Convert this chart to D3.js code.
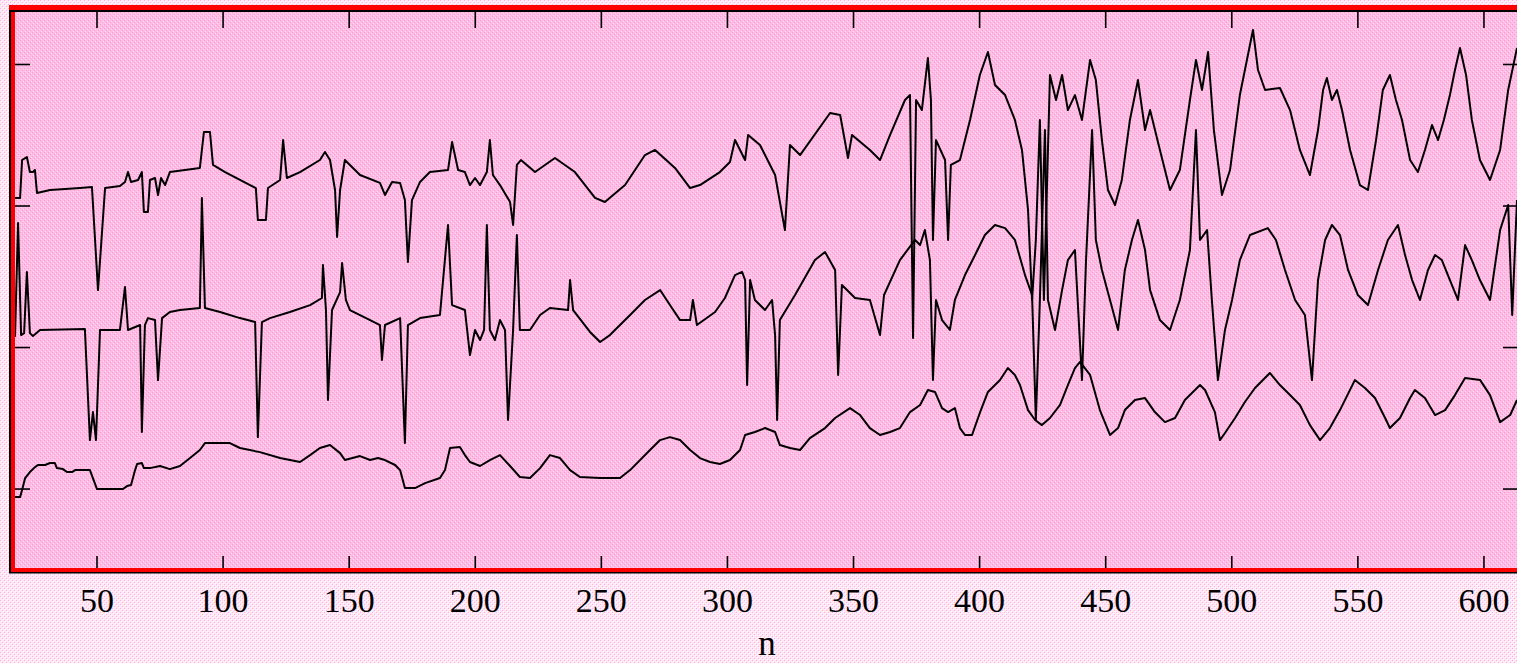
<!DOCTYPE html>
<html><head><meta charset="utf-8">
<script src="https://cdn.jsdelivr.net/npm/d3@7"></script>
<style>html,body{margin:0;padding:0;overflow:hidden;background:#fff}</style>
</head><body>
<script>
const xTicks = [50,100,150,200,250,300,350,400,450,500,550,600];
const yTicks = [0,10,20,30];

const bottomN = [16,19.5,20.3,21.5,23.4,25.4,26.6,29.4,31.4,33.3,34.1,36.5,38.1,40.1,41.3,47.2,50,60.3,61.9,63.5,65.1,65.9,67.8,68.6,71,75,78.9,82.9,86.9,90.8,92.8,102.7,106.7,114.6,122.6,130.5,134.5,138.4,142.4,146.4,148.3,154.3,158.3,161.4,164.2,168.2,170.2,172.1,176.1,180.1,186,188,190,193.9,195.9,197.9,201.9,205.8,209.8,213.8,217.7,221.7,225.7,229.6,233.6,237.6,241.5,249.5,257.4,261.4,269.3,273.3,277.2,281.2,285.2,289.1,293.1,297,301,305,307,310.9,314.9,318.9,320.8,324.8,328.8,332.7,338.7,342.7,348.6,352.6,356.5,360.5,364.5,368.4,372.4,376.4,379.5,382.3,385.1,387.5,390.2,392.2,394.2,397,400.2,403.3,408.1,411.2,414,416,419.2,422,424.7,427.9,431.9,435,437.8,439.8,443.8,447.7,451.7,454.9,457.6,461.6,465.6,469.5,473.5,477.5,481.4,487.4,489.4,493.3,495.3,497.3,501.3,505.2,509.2,515.1,519.1,523.1,527,531,535,538.9,542.9,548.8,552.8,556.8,560.8,562.7,566.7,570.7,572.6,576.6,580.6,584.6,588.5,592.5,598.5,602.4,606.4,610.4,613.1];
const bottomV = [-0.57,-0.57,-0.07,0.78,1.2,1.55,1.7,1.7,1.84,1.84,1.48,1.41,1.2,1.2,1.34,1.34,0,0,0.21,0.28,1.34,1.77,1.84,1.48,1.48,1.63,1.41,1.63,2.19,2.76,3.25,3.25,2.9,2.61,2.19,1.91,2.4,2.9,3.11,2.54,2.05,2.33,2.05,2.19,2.05,1.7,1.34,0.07,0.07,0.42,0.78,1.34,2.9,2.97,2.4,1.91,1.63,2.05,2.4,1.63,0.85,0.78,1.48,2.4,2.19,1.34,0.85,0.78,0.78,1.34,2.76,3.46,3.67,3.46,2.76,2.19,1.91,1.77,2.05,2.76,3.82,4.03,4.31,4.03,3.11,2.9,2.76,3.6,4.31,5.02,5.72,5.23,4.31,3.82,4.03,4.31,5.44,5.94,7,6.86,5.72,5.44,5.72,4.31,3.82,3.82,5.44,6.86,7.7,8.55,8.06,7.35,5.58,4.88,4.52,5.02,5.94,7.35,8.55,8.98,8.06,5.58,3.82,4.31,5.58,6.29,6.43,5.44,4.73,5.02,6.29,7.35,7,5.44,3.46,3.96,5.02,6.15,7.14,8.2,7.35,6.64,5.94,4.52,3.46,4.31,5.58,7.7,7.14,6.43,5.02,4.31,5.02,6.43,7,6.43,5.23,5.58,6.64,7.84,7.7,6.64,4.73,5.23,6.29];

const middleN = [15.9,17.5,18.7,19.9,21.1,22.2,23.4,24.6,27.4,45.2,47.2,48.4,49.6,51.2,59.1,61.1,62.3,67.1,67.8,69,70.2,73,74.2,75.8,78.9,82.9,90.8,91.6,92.8,98.8,106.7,112.7,113.8,115.4,118.6,126.5,134.5,139.2,139.6,140.8,141.6,143.2,146.4,147.2,148.7,150.3,158.3,162.2,163,164.2,170.2,172.1,173.3,178.1,186,189.2,190.8,195.9,197.9,199.9,201.9,203.5,204.6,205.8,207.8,209.8,211.8,213,215,216.5,217.7,221.7,225.7,229.6,236.8,237.6,238.8,245.5,249.5,253.4,261.4,267.3,273.3,277.2,281.2,285.2,286.3,287.9,295.1,299,303,305.8,307,307.8,309,310.9,314.9,317.7,318.9,319.7,320.8,326.8,334.7,338.7,342.7,343.9,345.4,350.6,356.5,360.5,362.1,368.4,374.4,
376.4,378.3,380.3,381.5,382.7,385.1,388.2,390.2,394.2,398.2,402.1,406.1,410.1,414,418,420.8,422.3,423.9,425.9,427.1,429.9,432.7,435,437.8,440.6,442.2,444.6,446.1,448.5,451.7,454.9,457.6,460.4,462.8,465.6,467.6,471.5,475.5,479.4,483.4,485.8,487.4,490.2,492.1,494.5,497.3,500.1,503.2,507.2,514.3,517.5,521.1,525.1,529,531.8,534.2,537,539.7,542.9,546.1,550,554,558,561.9,565.9,568.7,571.5,574.6,577.8,580.6,583.3,586.5,589.7,592.5,595.2,598.4,602.4,606.4,609.6,611.2,613.1];
const middleV = [10.88,10.81,18.8,10.88,11.02,15.34,11.02,10.81,11.24,11.31,3.46,5.44,3.46,11.24,11.24,14.28,11.24,11.59,4.03,11.59,12.08,11.94,7.7,12.08,12.51,12.65,12.79,20.57,12.79,12.51,12.08,11.8,3.67,11.8,12.08,12.51,13,13.5,15.83,12.65,6.29,12.65,13.92,15.97,13.36,12.65,11.94,11.59,9.12,11.59,12.08,3.25,11.59,12.08,12.3,18.66,13,12.65,9.47,11.24,10.53,11.24,18.66,11.24,10.53,11.94,11.24,4.88,11.24,17.95,11.24,11.24,12.3,12.79,12.65,14.77,12.65,11.1,10.39,10.88,12.3,13.36,14.06,13,11.94,11.94,13.36,11.59,12.51,13.5,15.12,15.34,14.77,7.35,14.77,13.36,12.65,13.36,10.88,4.88,11.94,13.71,16.18,16.75,15.48,8.06,14.42,13.5,13.36,10.88,13.71,16.18,17.6,
17.24,18.3,16.18,7.7,13.36,11.94,11.24,13.36,15.12,16.54,17.95,18.66,18.44,17.6,15.12,13.71,4.88,13.36,25.37,13.36,11.24,14.06,16.18,16.89,7.7,16.18,25.37,17.6,15.48,13.36,11.24,15.48,17.6,19.01,16.89,14.06,11.94,11.24,13.36,16.89,25.37,17.6,18.3,13.36,7.7,11.24,13.36,16.18,17.95,18.44,17.6,15.48,13.36,12.3,7.7,14.77,17.6,18.66,17.95,15.48,13.71,13,15.48,17.6,18.66,16.54,14.77,13.36,15.48,16.54,16.18,14.77,13.36,17.24,16.18,14.77,13.36,18.3,20.07,12.3,20.42];

const topN = [15.9,19.5,20.3,22.2,23.4,24.6,25.4,26.2,31.4,43.3,48,50.4,53.2,59.1,61.1,62.3,63.5,66.3,67.8,68.6,70.2,71,73,74.2,75.4,77,78.9,90.8,92.4,94.8,96,100.8,106.7,110.7,113,113.8,117,117.8,122.6,123.8,125.3,130.5,138.4,140.4,142.4,144.4,145.2,146.4,148.3,154.3,162.2,164.2,167,170.2,172.1,173.3,174.9,178.1,182,189.2,190.8,193.2,195.9,197.9,199.9,201.9,204.6,205.8,207,209.8,213.8,215,216.5,218.1,223.7,231.6,239.5,247.5,251.4,259.4,267.3,271.3,279.2,285.2,289.1,297,301,303,307,308.2,312.9,318.9,322.8,324.8,328.8,340.7,344.7,347.8,349.4,356.5,360.5,364.5,370.4,372.4,
373.6,374.8,377.1,379.5,380.7,381.5,382.7,386.3,387.5,388.6,392.2,396.2,400.1,403.3,406.1,410.1,414,416.8,419.2,420.8,422.3,423.9,425.5,427.9,430.3,432.7,435,437.8,440.6,443.8,446.1,448.5,450.9,453.7,456.4,459.6,462.8,465.6,467.6,471.5,475.5,479.4,483.4,485.8,488.2,490.6,492.9,496.1,499.3,503.2,506,508.4,510.4,513.2,519.1,523.1,527,531,534.2,536.2,537.7,539.7,541.7,543.7,546.9,550.8,554,557.2,559.9,562.7,565.1,567.5,570.7,573.8,576.6,579.4,581.8,584.1,586.5,588.5,590.5,592.9,595.2,598.4,602.4,606.4,609.6,613.1];
const topV = [20.57,20.57,23.25,23.46,22.4,22.4,22.54,20.92,21.13,21.27,21.34,14.06,21.27,21.41,21.7,22.4,21.7,21.84,22.4,19.58,19.58,21.84,21.98,20.78,21.98,21.48,22.4,22.69,25.23,25.23,22.9,22.4,21.84,21.48,21.27,19.01,19.01,21.27,21.84,24.66,21.98,22.4,23.25,23.82,23.25,21.13,17.81,21.13,23.25,22.19,21.63,20.78,21.7,21.63,20.42,16.04,20.42,21.7,22.4,22.54,24.52,22.54,22.4,21.48,21.98,21.48,22.4,24.66,22.19,21.48,20.28,18.66,22.9,23.25,22.4,23.39,22.4,20.57,20.28,21.48,23.6,23.96,22.69,21.27,21.48,22.4,23.11,24.66,23.25,25.02,24.31,22.19,18.3,24.31,23.6,26.57,26.43,23.39,25.02,23.96,23.25,25.02,27.49,27.84,
10.67,27.49,26.78,30.46,27.49,17.6,24.66,23.25,17.6,22.9,23.25,26.08,29.26,30.88,28.55,27.84,26.08,23.96,19.72,13.36,17.6,26.08,13.36,29.26,27.49,29.26,26.78,27.84,26.08,30.32,28.9,24.66,21.13,20.07,21.84,26.08,28.9,25.37,26.78,23.96,21.13,22.54,27.49,30.32,28.2,30.88,25.37,20.78,22.54,27.84,30.32,32.44,29.61,28.2,28.34,26.78,23.96,22.19,25.37,28.2,29.05,27.49,28.2,26.78,23.96,21.48,21.13,24.66,28.2,29.26,27.49,26.08,23.25,22.4,23.96,25.72,24.66,26.08,27.84,29.61,31.17,29.26,26.08,23.25,21.84,23.96,28.2,31.17];

const W = 1517, H = 663;
const L = 11, R = 1517, T = 10, B = 570;
const x = d3.scaleLinear().domain([15.9, 613.1]).range([L, R]);
const y = d3.scaleLinear().domain([-5.72, 33.85]).range([B, T]);

const svg = d3.select("body").append("svg").attr("width", W).attr("height", H);
const defs = svg.append("defs");
const pOut = defs.append("pattern").attr("id","pout").attr("width",4).attr("height",4).attr("patternUnits","userSpaceOnUse");
pOut.append("rect").attr("width",4).attr("height",4).attr("fill","#ffe8f6");
pOut.append("rect").attr("x",0).attr("y",0).attr("width",1).attr("height",1).attr("fill","#ffb0e0");
pOut.append("rect").attr("x",2).attr("y",2).attr("width",1).attr("height",1).attr("fill","#ffb0e0");
pOut.append("rect").attr("x",1).attr("y",1).attr("width",1).attr("height",1).attr("fill","#ffffff");
pOut.append("rect").attr("x",3).attr("y",3).attr("width",1).attr("height",1).attr("fill","#ffffff");
const pIn = defs.append("pattern").attr("id","pin").attr("width",4).attr("height",4).attr("patternUnits","userSpaceOnUse");
pIn.append("rect").attr("width",4).attr("height",4).attr("fill","#ffbde6");
pIn.append("rect").attr("x",0).attr("y",0).attr("width",1).attr("height",1).attr("fill","#f79ad2");
pIn.append("rect").attr("x",2).attr("y",2).attr("width",1).attr("height",1).attr("fill","#f79ad2");
pIn.append("rect").attr("x",1).attr("y",3).attr("width",1).attr("height",1).attr("fill","#ffd8f0");
pIn.append("rect").attr("x",3).attr("y",1).attr("width",1).attr("height",1).attr("fill","#ffd8f0");

svg.append("rect").attr("width",W).attr("height",H).attr("fill","url(#pout)");
svg.append("rect").attr("x",L).attr("y",T).attr("width",R-L+10).attr("height",B-T).attr("fill","url(#pin)");

const clip = defs.append("clipPath").attr("id","clip");
clip.append("rect").attr("x",L+2).attr("y",T+1).attr("width",R-L+10).attr("height",B-T-2);

const line = d3.line().x(d=>x(d[0])).y(d=>y(d[1]));
const g = svg.append("g").attr("clip-path","url(#clip)");
[[bottomN,bottomV],[middleN,middleV],[topN,topV]].forEach(([ns,vs])=>{
  g.append("path").datum(ns.map((n,i)=>[n,vs[i]]))
   .attr("d", line).attr("fill","none").attr("stroke","#000").attr("stroke-width",2).attr("stroke-linejoin","round");
});

// ticks
const tk = svg.append("g").attr("stroke","#000").attr("stroke-width",1.6);
xTicks.forEach(t=>{
  tk.append("line").attr("x1",x(t)).attr("x2",x(t)).attr("y1",B-14).attr("y2",B);
  tk.append("line").attr("x1",x(t)).attr("x2",x(t)).attr("y1",T).attr("y2",T+18);
});
yTicks.forEach(t=>{
  tk.append("line").attr("x1",L).attr("x2",L+19).attr("y1",y(t)).attr("y2",y(t));
  tk.append("line").attr("x1",R-14).attr("x2",R).attr("y1",y(t)).attr("y2",y(t));
});

// frame
svg.append("rect").attr("x",9).attr("y",5).attr("width",W).attr("height",5).attr("fill","#ff0000");
svg.append("rect").attr("x",11).attr("y",5).attr("width",4).attr("height",567).attr("fill","#ff0000");
svg.append("rect").attr("x",9).attr("y",568).attr("width",W).attr("height",4).attr("fill","#ff0000");
svg.append("rect").attr("x",9).attr("y",10).attr("width",W).attr("height",2).attr("fill","#000");
svg.append("rect").attr("x",9).attr("y",10).attr("width",2).attr("height",563).attr("fill","#000");
svg.append("rect").attr("x",9).attr("y",572).attr("width",W).attr("height",1.5).attr("fill","#000");

// labels
const lab = svg.append("g").attr("font-family","'Liberation Serif', 'DejaVu Serif', serif").attr("fill","#000");
xTicks.forEach(t=>{
  lab.append("text").attr("x",x(t)).attr("y",612).attr("text-anchor","middle").attr("font-size",34).text(t);
});
lab.append("text").attr("x",(L+R)/2+3).attr("y",655).attr("text-anchor","middle").attr("font-size",35).text("n");
</script>
</body></html>
